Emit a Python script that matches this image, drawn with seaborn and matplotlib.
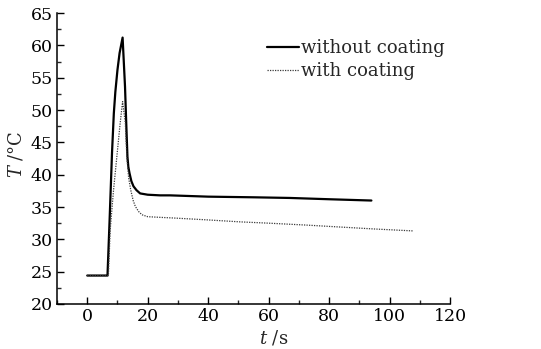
import matplotlib
matplotlib.use("Agg")
import matplotlib.pyplot as plt
import seaborn as sns
import pandas as pd
from matplotlib.ticker import MultipleLocator

# --- data ---
t_without = [0, 3, 6.7, 7.4, 8.2, 8.8, 9.3, 10.0, 10.7, 11.7, 12.5, 12.9, 13.3, 13.6,
             14.0, 14.6, 15.3, 16.3, 17.5, 20.0, 24.1, 27.4, 40, 55, 67, 80, 94]
T_without = [24.4, 24.4, 24.4, 33.0, 43.4, 49.5, 52.8, 56.2, 58.8, 61.2, 53.6, 48.0,
             42.8, 41.2, 40.2, 39.0, 38.2, 37.6, 37.1, 36.9, 36.8, 36.8, 36.6, 36.5,
             36.4, 36.2, 36.0]

t_with = [0, 3, 7.0, 7.6, 8.7, 9.8, 10.9, 11.7, 12.6, 13.1, 13.7, 14.4, 15.2, 15.9,
          17.0, 18.1, 20.0, 24.1, 28.5, 40, 50.6, 60, 72.6, 80, 95, 107.9]
T_with = [24.4, 24.4, 24.4, 31.5, 37.6, 42.8, 48.0, 51.3, 48.0, 42.8, 39.5, 37.6,
          36.0, 35.1, 34.3, 33.8, 33.5, 33.4, 33.3, 33.0, 32.7, 32.5, 32.2, 32.0,
          31.6, 31.3]

labels = ["without coating", "with coating"]
x_ticks = [0, 20, 40, 60, 80, 100, 120]
y_ticks = [20, 25, 30, 35, 40, 45, 50, 55, 60, 65]

df = pd.concat([
    pd.DataFrame({"t": t_without, "T": T_without, "series": labels[0]}),
    pd.DataFrame({"t": t_with, "T": T_with, "series": labels[1]}),
], ignore_index=True)

sns.set_theme(style="ticks")
plt.rcParams["font.family"] = ["DejaVu Serif"]
plt.rcParams["mathtext.fontset"] = "dejavuserif"

fig = plt.figure(figsize=(5.41, 3.49), dpi=100)
ax = fig.add_axes([57 / 541, 45 / 349, 393 / 541, 291 / 349])

sns.lineplot(data=df, x="t", y="T", hue="series", style="series",
             palette={labels[0]: "black", labels[1]: "#3a3a3a"},
             dashes={labels[0]: "", labels[1]: (1, 1)},
             sort=False, estimator=None, ax=ax, legend=False)
lines = ax.get_lines()
lines[0].set_linewidth(1.6)
lines[1].set_linewidth(0.9)

ax.set_xlim(-10, 120)
ax.set_ylim(20, 65)
ax.set_xticks(x_ticks)
ax.set_yticks(y_ticks)
ax.xaxis.set_minor_locator(MultipleLocator(10))
ax.yaxis.set_minor_locator(MultipleLocator(2.5))
ax.tick_params(axis="both", which="major", direction="in", length=5, width=1,
               labelsize=12.5, colors="black", pad=3)
ax.tick_params(axis="both", which="minor", direction="in", length=3, width=1)
for s in ["top", "right"]:
    ax.spines[s].set_visible(False)
for s in ["left", "bottom"]:
    ax.spines[s].set_linewidth(1.1)
    ax.spines[s].set_color("black")

ax.set_xlabel(r"$t$ /s", fontsize=13)
ax.set_ylabel(r"$T$ /°C", fontsize=13)
ax.xaxis.set_label_coords(0.552, -0.085)
ax.yaxis.set_label_coords(-0.08, 0.515)

leg = ax.legend(lines, labels, loc="upper left", bbox_to_anchor=(0.515, 0.935),
                frameon=False, fontsize=13, handlelength=1.8, handletextpad=0.1,
                labelspacing=0.28, borderaxespad=0)

fig.savefig("out.png", dpi=100, facecolor="white")
